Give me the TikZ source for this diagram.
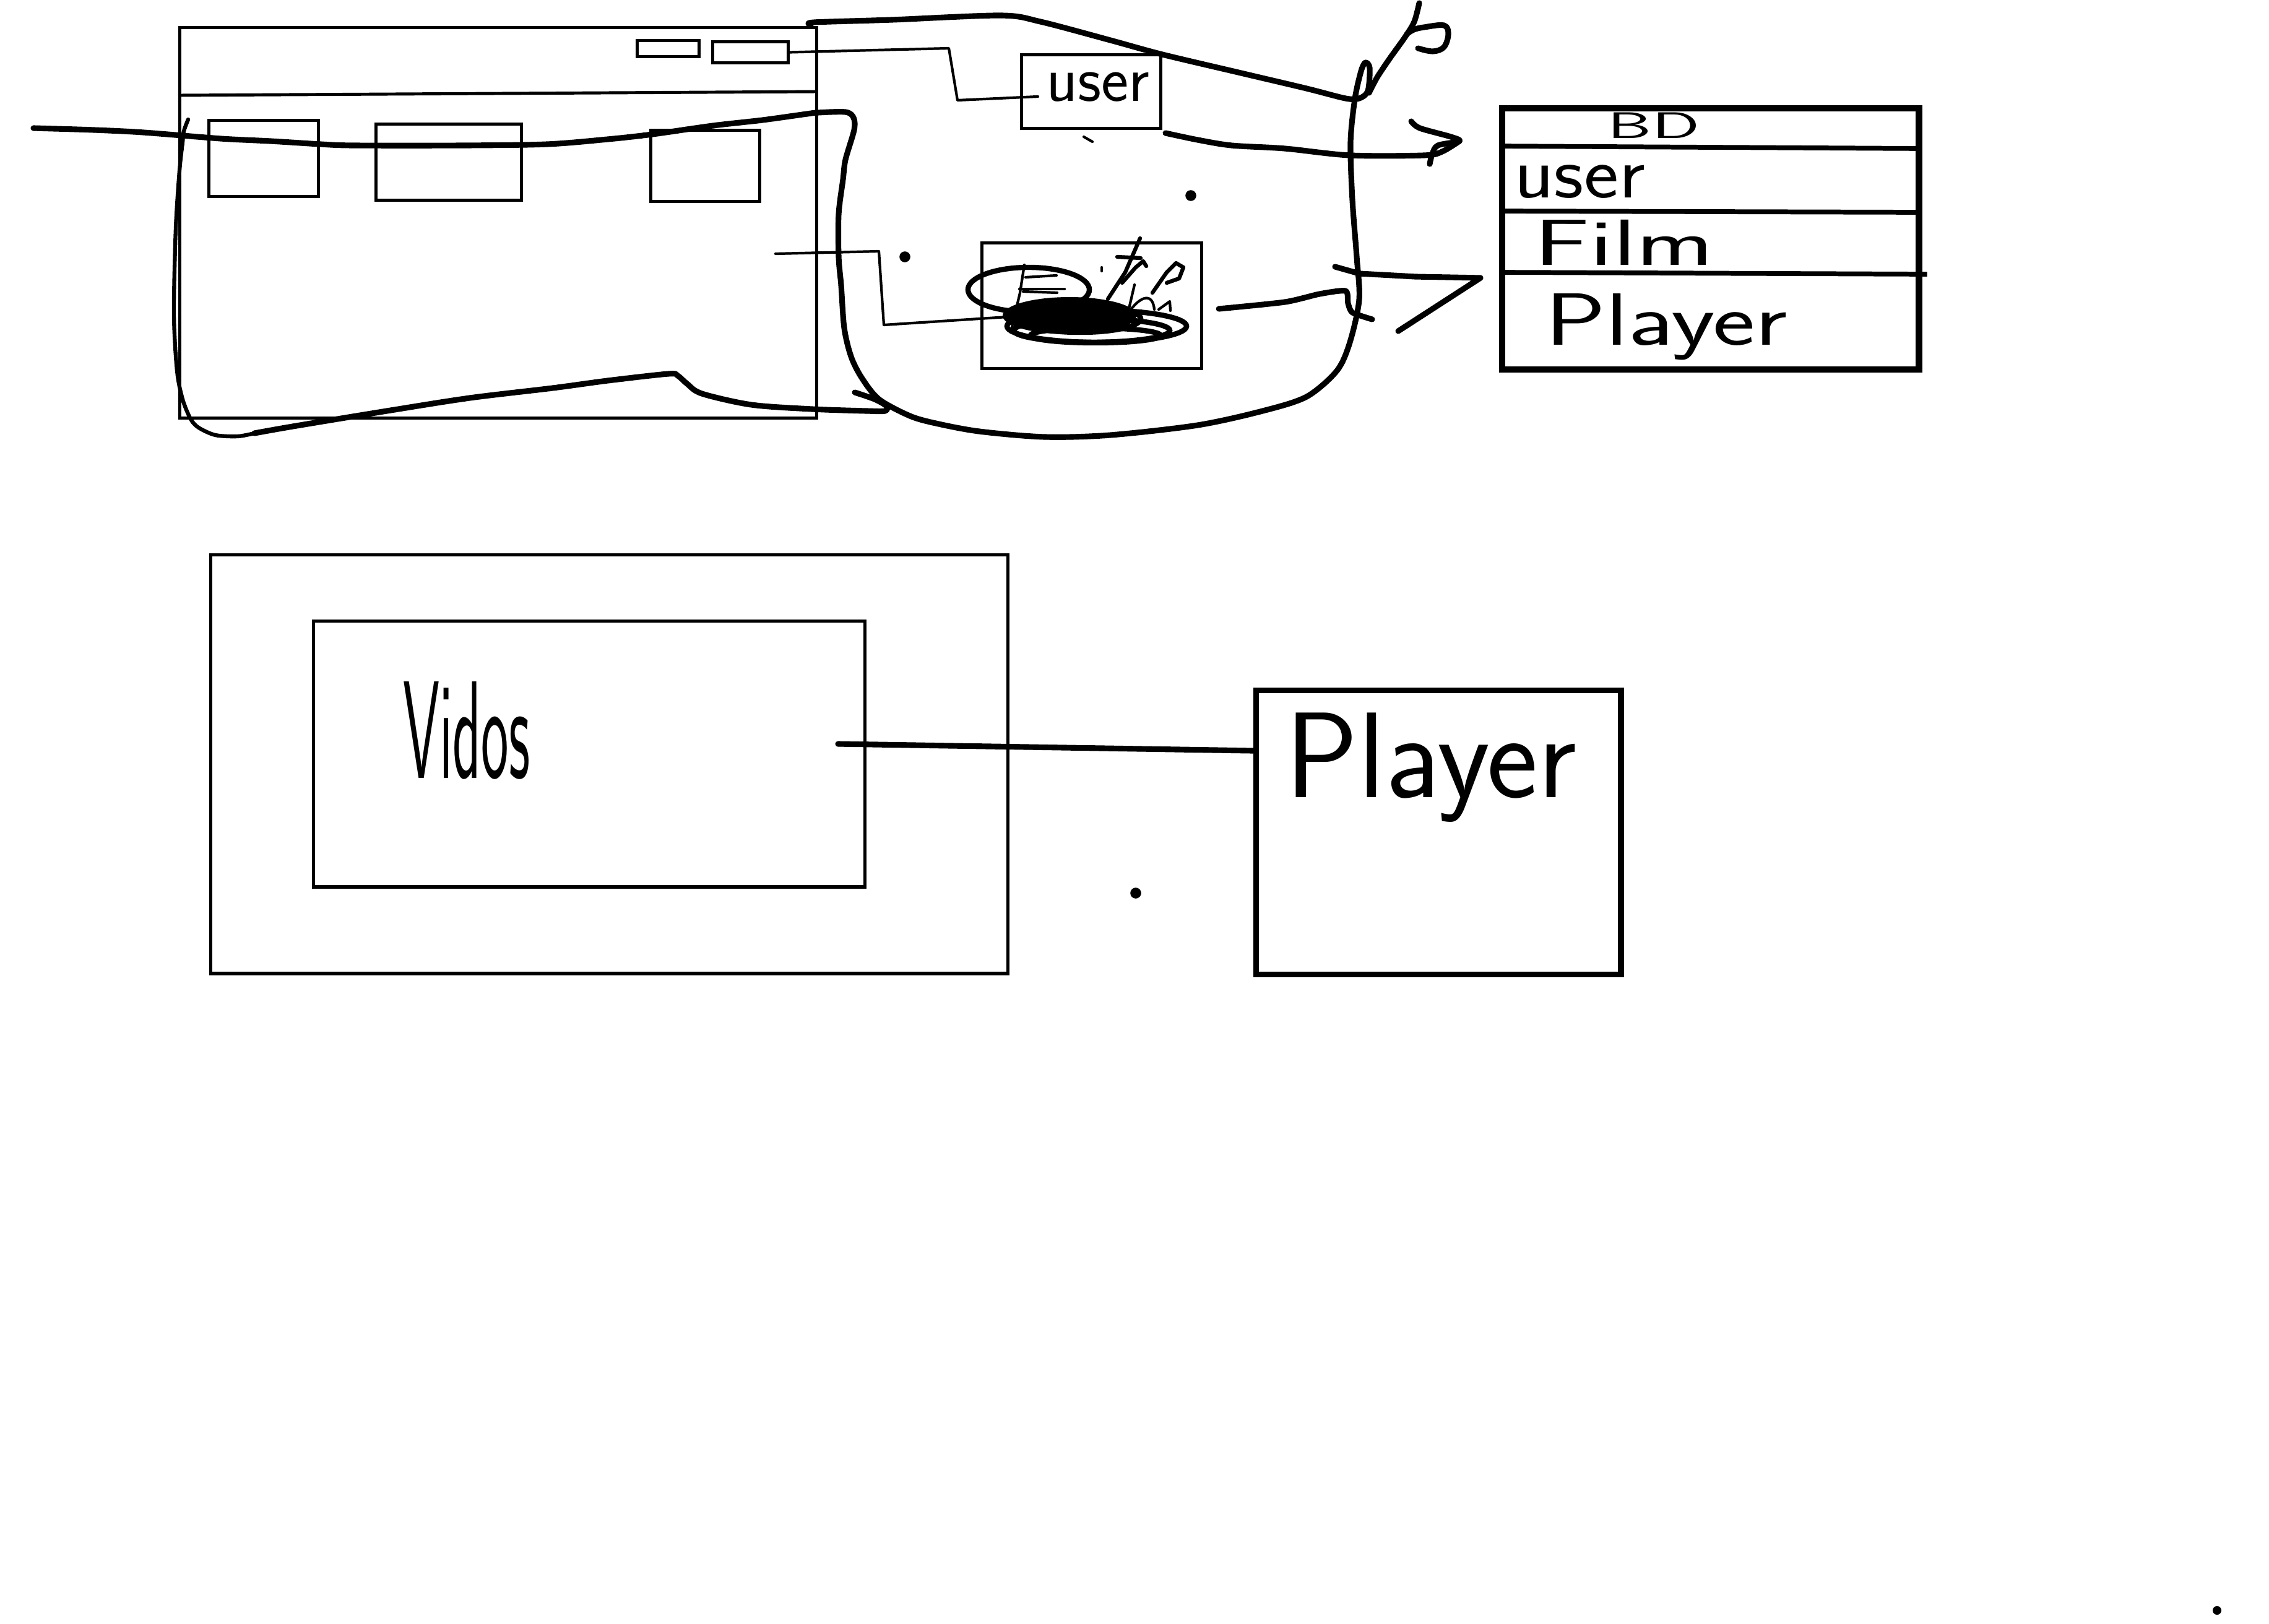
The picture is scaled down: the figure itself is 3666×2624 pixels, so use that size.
\documentclass[tikz,border=0pt]{standalone}
\usepackage{graphicx}
\begin{document}
\begin{tikzpicture}[x=0.01cm,y=-0.01cm,
  box/.style={draw,line width=1.4pt,inner sep=0pt,anchor=north west},
  heavybox/.style={draw,line width=2.9pt,inner sep=0pt,anchor=north west},
  stroke/.style={line width=2.6pt,line cap=round,line join=round},
  midstroke/.style={line width=1.8pt,line cap=round,line join=round},
  finestroke/.style={line width=1.2pt,line cap=round,line join=round},
  hand/.style={inner sep=0pt}]
\useasboundingbox (0,0) rectangle (3666,2624);

% ---------- window mock-up ----------
\node[box,minimum width=10.28cm,minimum height=6.31cm] (win) at (288,42) {};
\draw[line width=1.4pt] (win.west |- 0,154) -- (win.east |- 0,148);
\node[box,minimum width=1.00cm,minimum height=0.26cm] (btn1) at (1027,63) {};
\node[box,minimum width=1.22cm,minimum height=0.34cm] (btn2) at (1149,65) {};
\node[box,minimum width=1.77cm,minimum height=1.23cm] (box1) at (335,192) {};
\node[box,minimum width=2.35cm,minimum height=1.23cm] (box2) at (605,198) {};
\node[box,minimum width=1.76cm,minimum height=1.15cm] (box3) at (1049,208) {};

% ---------- user and film boxes ----------
\node[box,minimum width=2.25cm,minimum height=1.19cm] (ubox) at (1648,86) {};
\node[hand,font=\sffamily\fontsize{30}{30}\selectfont] (tuser) at (1774,141) {user};
\node[box,minimum width=3.55cm,minimum height=2.03cm] (fbox) at (1584,390) {};

\coordinate (uin) at (1677,156);
\coordinate (fstart) at (1253,410);
\coordinate (fin) at (1628,512);
\draw[finestroke] (btn2.east) -- (1533,78) -- (1547,162) -- (uin);
\draw[finestroke] (fstart) -- (1420,406) -- (1428,525) -- (fin);

% scribble over the film box
\fill (1728,510) ellipse [x radius=1.08cm, y radius=0.3cm];
\draw[line width=2.4pt] (1662,468) ellipse [x radius=0.98cm, y radius=0.36cm];
\draw[line width=2.4pt] (1772,527) ellipse [x radius=1.45cm, y radius=0.26cm];
\draw[line width=2.4pt] (1764,534) ellipse [x radius=1.26cm, y radius=0.19cm];
\draw[line width=2.4pt] (1745,515) ellipse [x radius=0.98cm, y radius=0.22cm];
\draw[line width=2.4pt] (1770,542) ellipse [x radius=1.05cm, y radius=0.12cm];
\draw[finestroke] (1655,428) -- (1648,473) -- (1633,537);
\draw[finestroke] (1657,448) -- (1707,445);
\draw[finestroke] (1647,467) -- (1720,467);
\draw[finestroke] (1653,471) -- (1708,473);
\draw[midstroke] (1842,385) -- (1818,440) -- (1790,483);
\draw[midstroke] (1805,415) -- (1843,417);
\draw[midstroke] (1813,457) -- (1835,432) -- (1847,422) -- (1852,430);
\draw[midstroke] (1862,473) -- (1885,440) -- (1900,425) -- (1912,432) -- (1905,450) -- (1885,457);
\draw[finestroke] (1780,432) -- (1780,438);
\draw[finestroke] (1833,460) -- (1823,503);
\draw[finestroke] (1823,506) .. controls (1840,480) and (1862,470) .. (1865,500);
\draw[finestroke] (1872,500) -- (1890,487) -- (1891,502);

% small marks
\draw[finestroke] (1751,221) -- (1765,229);
\fill (1924,316) circle [radius=2.5pt];
\fill (1462,415) circle [radius=2.5pt];

% ---------- big freehand outlines ----------
\draw[stroke] plot[smooth,tension=0.5] coordinates {
 (54,207) (152,210) (232,214) (357,224) (437,228) (518,233) (571,235) (750,235)
 (884,233) (982,225) (1054,217) (1152,203) (1232,194) (1304,184) (1321,182)
 (1366,181) (1379,190) (1380,210) (1366,258) (1362,290) (1355,346) (1355,415)
 (1359,461) (1364,530) (1375,576) (1392,610) (1420,645) (1470,672) (1512,684)
 (1582,697) (1688,706) (1794,703) (1935,687) (2040,664) (2111,641) (2160,599)
 (2181,553) (2196,484) (2192,415) (2185,323) (2182,230) (2189,160) (2199,115)
 (2206,101) (2213,110) (2210,147) (2196,159) (2174,159) (2111,143) (2005,118)
 (1878,88) (1794,65) (1681,35) (1617,25) (1441,32) (1316,36) (1310,40)};
\draw[midstroke] plot[smooth,tension=0.5] coordinates {
 (304,193) (297,212) (295,230) (290,276) (284,369) (281,507) (286,599) (295,645)
 (308,677) (321,691) (348,703) (384,705) (411,700)};
\draw[stroke] plot[smooth,tension=0.5] coordinates {
 (411,700) (473,689) (625,664) (759,643) (893,627) (982,615) (1080,604) (1095,607)
 (1110,620) (1134,636) (1214,654) (1312,661) (1400,664) (1430,664) (1432,656)
 (1413,645) (1381,634)};
\draw[stroke] plot[smooth,tension=0.5] coordinates {
 (2293,5) (2285,35) (2270,60) (2245,95) (2225,125) (2212,150)};
\draw[stroke] plot[smooth,tension=0.6] coordinates {
 (2291,78) (2315,83) (2333,76) (2340,55) (2333,41) (2301,44) (2284,48) (2273,55)};

% ---------- database table ----------
\node[heavybox,minimum width=6.73cm,minimum height=4.22cm] (db) at (2422,170) {};
\draw[line width=2.2pt] (db.west |- 0,236) -- (db.east |- 0,240);
\draw[line width=2.2pt] (db.west |- 0,341) -- (db.east |- 0,343);
\draw[line width=2.2pt] (db.west |- 0,440) -- ([xshift=0.08cm]db.east |- 0,443);
\node[hand,font=\sffamily\fontsize{17}{17}\selectfont] (tbd) at (2672,203) {\scalebox{1.9}[1]{BD}};
\node[hand,font=\sffamily\fontsize{34}{34}\selectfont] (tdbuser) at (2552,294) {\scalebox{1.12}[1]{user}};
\node[hand,font=\sffamily\fontsize{30}{30}\selectfont] (tfilm) at (2624,392) {\scalebox{1.6}[1]{Film}};
\node[hand,font=\sffamily\fontsize{34}{34}\selectfont] (tdbplayer) at (2692,528) {\scalebox{1.37}[1]{Player}};

% arrows towards the database
\draw[stroke] plot[smooth,tension=0.5] coordinates {
 ([xshift=0.05cm,yshift=-0.05cm]ubox.south east) (1935,226) (1990,235) (2076,240) (2181,251) (2301,251) (2330,245) (2358,228)};
\draw[stroke] plot[smooth,tension=0.5] coordinates {
 (2280,196) (2294,207) (2344,221) (2358,228) (2323,235) (2314,249) (2310,265)};
\draw[stroke] plot[smooth,tension=0.4] coordinates {
 ([xshift=0.25cm,yshift=-0.05cm]fbox.east) (2076,488) (2132,475) (2174,470) (2178,490) (2185,505) (2217,516)};
\draw[stroke] (2157,431) -- (2196,442) -- (2287,447) -- (2392,449) -- (2259,535);

% ---------- lower part ----------
\node[box,line width=1.5pt,minimum width=12.87cm,minimum height=6.76cm] (outer) at (338,894) {};
\node[box,line width=1.5pt,minimum width=8.90cm,minimum height=4.29cm] (inner) at (504,1001) {};
\node[hand,font=\sffamily\fontsize{64}{64}\selectfont] (tvid) at (754,1180) {\scalebox{0.42}[1]{Vidos}};
\node[box,line width=2.6pt,minimum width=5.89cm,minimum height=4.59cm] (player) at (2025,1111) {};
\node[hand,font=\sffamily\fontsize{56}{56}\selectfont] (tplayer) at (2312,1240) {Player};
\coordinate (vidend) at (1354,1202);
\draw[stroke] (vidend) -- (player.west |- 0,1213);

\fill (1835,1443) circle [radius=2.5pt];
\fill (3582,2602) circle [radius=2pt];
\end{tikzpicture}
\end{document}
